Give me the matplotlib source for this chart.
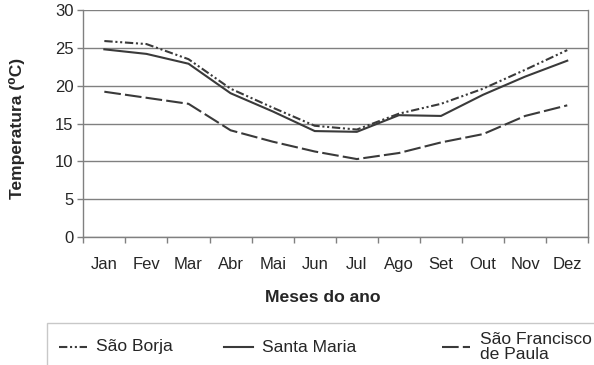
import numpy as np
import matplotlib
matplotlib.use("Agg")
import matplotlib.pyplot as plt
from matplotlib.lines import Line2D
from matplotlib.patches import Rectangle

plt.rcParams['font.family'] = ['Liberation Sans', 'DejaVu Sans']

months = ["Jan", "Fev", "Mar", "Abr", "Mai", "Jun",
          "Jul", "Ago", "Set", "Out", "Nov", "Dez"]
sao_borja = [25.9, 25.5, 23.5, 19.6, 17.1, 14.7, 14.2, 16.3, 17.6, 19.6, 22.1, 24.7]
santa_maria = [24.8, 24.2, 22.9, 19.0, 16.6, 14.0, 13.9, 16.1, 16.0, 18.8, 21.2, 23.3]
sao_francisco = [19.2, 18.4, 17.6, 14.1, 12.6, 11.3, 10.3, 11.1, 12.5, 13.6, 16.0, 17.4]
yticks = [0, 5, 10, 15, 20, 25, 30]

line_color = "#3a3a3a"
grid_color = "#808080"
text_color = "#262626"

W, H = 594, 365
fig = plt.figure(figsize=(W / 100, H / 100), dpi=100)
ax = fig.add_axes([83.3 / W, 1 - 237 / H, (588.3 - 83.3) / W, 227 / H])

series = [
    ("São Borja", sao_borja, (0, (4, 1.3, 1, 1.3, 1, 1.3))),
    ("Santa Maria", santa_maria, "-"),
    ("São Francisco\nde Paula", sao_francisco, (0, (8, 2))),
]

x = np.arange(len(months))
for name, values, style in series:
    ax.plot(x, values, color=line_color, lw=1.5, linestyle=style)

ax.set_xlim(-0.5, len(months) - 0.5)
ax.set_ylim(0, 30)
ax.set_yticks(yticks)
ax.yaxis.grid(True, color=grid_color, lw=1.0)
ax.set_axisbelow(True)

# category labels centred, tick marks on the boundaries
ax.set_xticks(x)
ax.set_xticklabels(months, fontsize=12, color=text_color)
ax.set_xticks(np.arange(-0.5, len(months)), minor=True)
ax.tick_params(axis="x", which="major", length=0, pad=14.5)
ax.tick_params(axis="x", which="minor", length=4, width=1, color=grid_color, direction="out")
ax.tick_params(axis="y", length=4, width=1, color=grid_color, labelsize=12,
               labelcolor=text_color, pad=3)

for side in ["left", "bottom", "right"]:
    ax.spines[side].set_color(grid_color)
    ax.spines[side].set_linewidth(1.0)
ax.spines["top"].set_visible(False)

ax.set_ylabel("Temperatura (⁰C)", fontsize=12.5, fontweight="bold", color=text_color)
ax.yaxis.set_label_coords(-58.5 / 505, 0.48)
ax.set_xlabel("Meses do ano", fontsize=12.6, fontweight="bold", color=text_color)
ax.xaxis.set_label_coords(0.475, -60 / 227)
ax.xaxis.label.set_va("center")

# legend box, running past the right and bottom edges
fig.add_artist(Rectangle((47 / W, -0.05), 1.0, 1 - 322.5 / H + 0.05,
                         transform=fig.transFigure, fill=False,
                         edgecolor="#c8c8c8", lw=1.0))
handle_x = [(59, 87), (224, 253), (442, 470)]
row_y = 1 - 347 / H
for (name, values, style), (x0, x1) in zip(series, handle_x):
    fig.add_artist(Line2D([x0 / W, x1 / W], [row_y, row_y], transform=fig.transFigure,
                          color=line_color, lw=1.5, linestyle=style))
    fig.text((x1 + 9.5) / W, row_y, name, fontsize=12.6, color=text_color,
             ha="left", va="center", linespacing=0.95)

fig.savefig("out.png", dpi=100)
